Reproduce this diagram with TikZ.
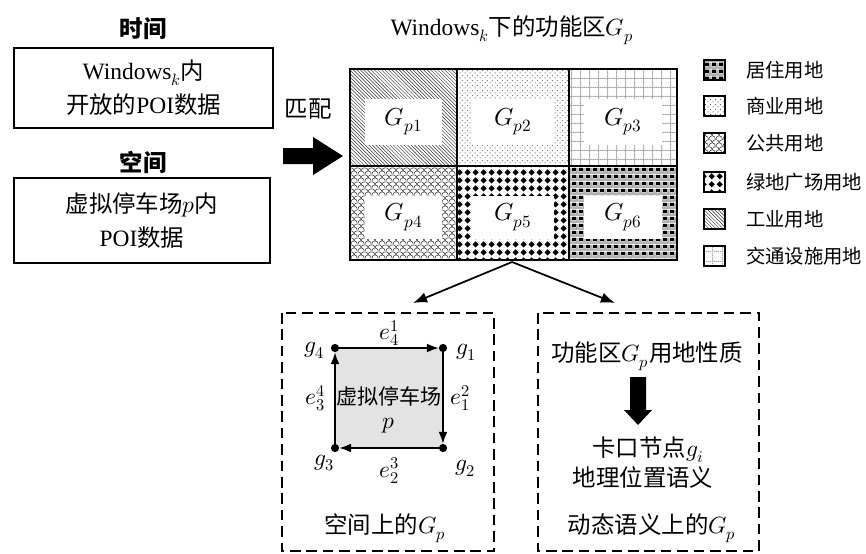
\documentclass[tikz,border=0pt]{standalone}
\usepackage{fontspec}
\usepackage{unicode-math}
\setmainfont{Liberation Serif}
\setmathfont{Latin Modern Math}
\newfontfamily\cjk{Noto Sans CJK SC}
\usetikzlibrary{arrows.meta}
\usetikzlibrary{patterns, patterns.meta}

% land use patterns
\tikzdeclarepattern{name=plazadots, type=uncolored,
  bounding box={(0pt,0pt) and (6.5pt,6.5pt)}, tile size={(6.5pt,6.5pt)},
  code={\fill (3.25pt,0.5pt) -- (6pt,3.25pt) -- (3.25pt,6pt) -- (0.5pt,3.25pt) -- cycle;}}
\tikzdeclarepattern{name=shopdots, type=uncolored,
  bounding box={(0pt,0pt) and (4pt,4pt)}, tile size={(4pt,4pt)},
  code={\fill (1pt,1pt) circle (0.5pt); \fill (3pt,3pt) circle (0.5pt);}}
\tikzdeclarepattern{name=scales, type=uncolored,
  bounding box={(0pt,0pt) and (6pt,6pt)}, tile size={(6pt,6pt)},
  code={\draw[line width=0.5pt] (0pt,0pt) arc (180:0:3pt);
        \draw[line width=0.5pt] (-3pt,3pt) arc (180:0:3pt);
        \draw[line width=0.5pt] (3pt,3pt) arc (180:0:3pt);}}
\tikzdeclarepattern{name=trafficgrid, type=uncolored,
  bounding box={(0pt,0pt) and (8pt,8pt)}, tile size={(8pt,8pt)},
  code={\draw[line width=0.9pt, dash pattern=on 1.2pt off 0.6pt] (0.5pt,0pt) -- (0.5pt,8pt);
        \draw[line width=0.9pt, dash pattern=on 1.2pt off 0.6pt] (0pt,0.5pt) -- (8pt,0.5pt);}}
\tikzdeclarepattern{name=housing, type=colored,
  bounding box={(0pt,0pt) and (6pt,6pt)}, tile size={(6pt,6pt)},
  code={\fill[gray!60] (0pt,0pt) rectangle (6pt,2.5pt);
        \fill[gray!60] (0pt,0pt) rectangle (2.5pt,6pt);
        \fill[black] (3pt,3pt) rectangle (6pt,6pt);}}

\begin{document}
\begin{tikzpicture}[x=0.03cm, y=-0.03cm,
  txt/.style={font=\fontsize{20}{29}\selectfont, inner sep=0pt, align=center},
  hd/.style={font=\fontsize{20}{24}\selectfont\cjk\bfseries, inner sep=0pt},
  legtxt/.style={font=\fontsize{16.5}{20}\selectfont\cjk, inner sep=0pt, anchor=west},
  gplab/.style={font=\fontsize{21}{24}\selectfont, inner sep=0pt},
  dashbox/.style={dash pattern=on 9pt off 5pt, line width=1.3pt},
  dot/.style={circle, fill, inner sep=0pt, minimum size=7pt},
  edge/.style={-{Latex[length=10pt,width=7.5pt]}, line width=1.3pt},
  conn/.style={-{Latex[length=12pt,width=9pt]}, line width=1.5pt},
  residential/.style={pattern=housing},
  commercial/.style={pattern=shopdots, pattern color=black!70},
  public/.style={pattern=scales, pattern color=black!80},
  plaza/.style={pattern=plazadots, pattern color=black},
  industrial/.style={pattern=north west lines, pattern color=black!80},
  traffic/.style={pattern=trafficgrid, pattern color=gray!70}]
  \useasboundingbox (0,0) rectangle (866,553);
  \def\ca{350} \def\cb{457} \def\cc{569} \def\cd{677}
  \def\ra{69} \def\rb{166} \def\rc{260}

  % left: time and space data
  \node[hd] (t_time) at (143,29) {时间};
  \node[draw, line width=1.2pt, minimum width=259*0.03cm, minimum height=80*0.03cm, txt] (box_time) at (143.5,88)
    {Windows$_k${\cjk 内}\\{\cjk 开放的}POI{\cjk 数据}};
  \node[hd] (t_space) at (143,162) {空间};
  \node[draw, line width=1.2pt, minimum width=256*0.03cm, minimum height=85*0.03cm, txt] (box_space) at (142,220.5)
    {{\cjk 虚拟停车场}$p${\cjk 内}\\POI{\cjk 数据}};

  \node[txt, font=\fontsize{20}{24}\selectfont\cjk] (t_match) at (308,109) {匹配};
  \fill (283,148) -- (313,148) -- (313,137) -- (343,156) -- (313,175) -- (313,164) -- (283,164) -- cycle;

  % function zones
  \node[txt] (t_title) at (512,30) {Windows$_k${\cjk 下的功能区}$G_p$};
  \foreach \xa/\xb/\ya/\yb/\st/\i in {\ca/\cb/\ra/\rb/industrial/1, \cb/\cc/\ra/\rb/commercial/2,
      \cc/\cd/\ra/\rb/traffic/3, \ca/\cb/\rb/\rc/public/4, \cb/\cc/\rb/\rc/plaza/5, \cc/\cd/\rb/\rc/residential/6}
  {
    \fill[\st] (\xa,\ya) rectangle (\xb,\yb);
    \fill[white] (\xa+15,\ya+30) rectangle (\xb-15,\yb-21);
    \node[gplab] (gp\i) at ({(\xa+\xb)/2},{(\ya+\yb)/2+4}) {$G_{p\i}$};
  }
  \draw[line width=1.8pt] (\ca,\ra) rectangle (\cd,\rc);
  \draw[line width=1.8pt] (\cb,\ra) -- (\cb,\rc) (\cc,\ra) -- (\cc,\rc) (\ca,\rb) -- (\cd,\rb);

  % legend
  \foreach \yy/\st/\name [count=\i] in {70/residential/居住用地, 106/commercial/商业用地, 143/public/公共用地,
      182/plaza/绿地广场用地, 219/industrial/工业用地, 256/traffic/交通设施用地}
  {
    \draw[line width=1.7pt, \st] (704,\yy-10) rectangle (725,\yy+10);
    \node[legtxt] (leg\i) at (746,\yy) {\name};
  }

  % split arrows
  \coordinate (gridbot) at (512,262);
  \coordinate (lefttip) at (413,303);
  \coordinate (righttip) at (615,303);
  \draw[conn] (gridbot) -- (lefttip);
  \draw[conn] (gridbot) -- (righttip);

  % spatial Gp
  \draw[dashbox] (282,313) rectangle (494,551);
  \fill[gray!22] (335,348) rectangle (443,448);
  \node[dot] (g4) at (335,348) {};
  \node[dot] (g1) at (443,348) {};
  \node[dot] (g2) at (443,448) {};
  \node[dot] (g3) at (335,448) {};
  \draw[edge] (g4) -- (g1);
  \draw[edge] (g1) -- (g2);
  \draw[edge] (g2) -- (g3);
  \draw[edge] (g3) -- (g4);
  \node[txt] (l_g4) at (314,350) {$g_4$};
  \node[txt] (l_g1) at (466,352) {$g_1$};
  \node[txt] (l_g2) at (465,468) {$g_2$};
  \node[txt] (l_g3) at (324,463) {$g_3$};
  \node[txt] (e41) at (389,333) {$e_4^1$};
  \node[txt] (e12) at (460,398) {$e_1^2$};
  \node[txt] (e23) at (389,471) {$e_2^3$};
  \node[txt] (e34) at (315,398) {$e_3^4$};
  \node[txt, font=\fontsize{18}{22}\selectfont\cjk] (t_park) at (389,396) {虚拟停车场};
  \node[txt] (t_p) at (389,426) {$p$};
  \node[txt] (t_spat) at (385,528) {{\cjk 空间上的}$G_p$};

  % semantic Gp
  \draw[dashbox] (538,313) rectangle (759,551);
  \node[txt] (t_prop) at (647,356) {{\cjk 功能区}$G_p${\cjk 用地性质}};
  \fill (630,377) -- (646,377) -- (646,410) -- (652,410) -- (638,425) -- (624,410) -- (630,410) -- cycle;
  \node[txt] (t_node) at (648,450) {{\cjk 卡口节点}$g_i$};
  \node[txt, font=\fontsize{20}{24}\selectfont\cjk] (t_geo) at (643,478) {地理位置语义};
  \node[txt] (t_sem) at (652,528) {{\cjk 动态语义上的}$G_p$};
\end{tikzpicture}
\end{document}
